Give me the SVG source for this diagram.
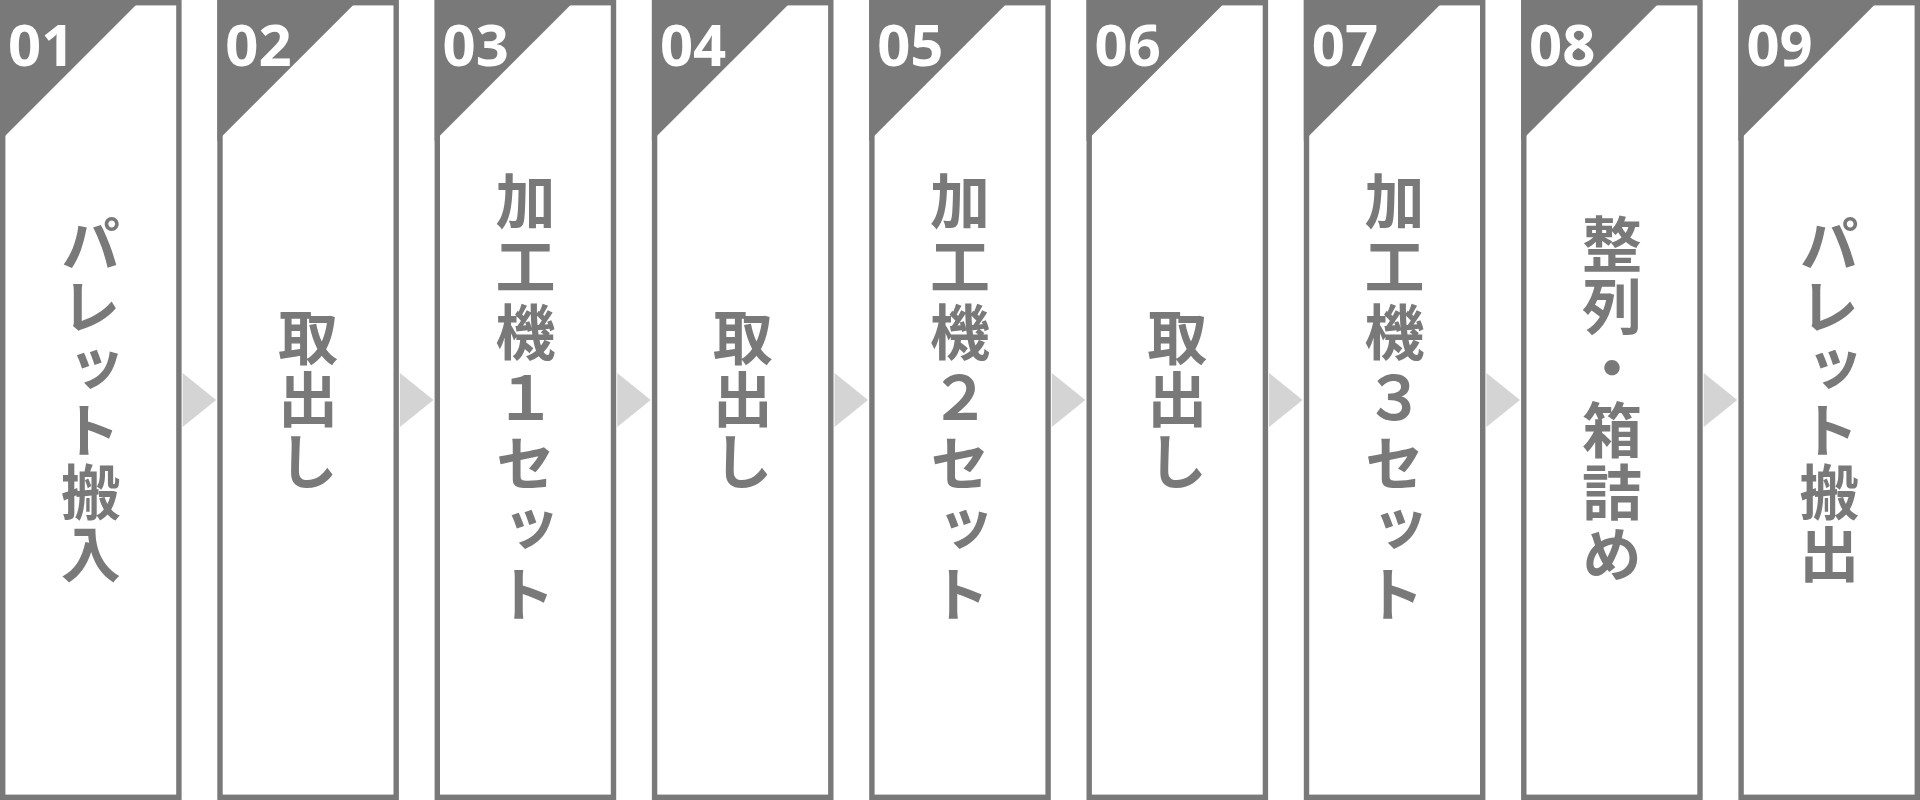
<svg xmlns="http://www.w3.org/2000/svg" width="1920" height="800" viewBox="0 0 1920 800">
<style>
.box{fill:#ffffff;stroke:#797979;stroke-width:5.4}
.tab{fill:#797979}
.num{font-family:"Open Sans","Liberation Sans",sans-serif;font-weight:700;font-size:58px;fill:#ffffff}
.lbl{font-family:"Noto Sans CJK JP","Noto Sans CJK SC",sans-serif;font-weight:700;font-size:60px;fill:#797979;writing-mode:vertical-rl;text-orientation:upright;text-anchor:middle;letter-spacing:2px}
.lbl.wide{letter-spacing:5.5px}
.arr{fill:#d4d4d4}
</style>
<rect width="1920" height="800" fill="#ffffff"/>
<g id="connectors">
<polygon class="arr" points="182.6,373 216.1,400 182.6,427"/>
<polygon class="arr" points="399.9,373 433.4,400 399.9,427"/>
<polygon class="arr" points="617.2,373 650.7,400 617.2,427"/>
<polygon class="arr" points="834.5,373 868,400 834.5,427"/>
<polygon class="arr" points="1051.8,373 1085.3,400 1051.8,427"/>
<polygon class="arr" points="1269.1,373 1302.6,400 1269.1,427"/>
<polygon class="arr" points="1486.4,373 1519.9,400 1486.4,427"/>
<polygon class="arr" points="1703.7,373 1737.2,400 1703.7,427"/>
</g>
<g id="step01" transform="translate(0,0)">
<rect class="box" x="2.7" y="2.7" width="176.2" height="794.6"/>
<polygon class="tab" points="0,0 141,0 0,141"/>
<text class="num" x="8" y="66">01</text>
<text class="lbl" x="90.8" y="400">パレット搬入</text>
</g>
<g id="step02" transform="translate(217.3,0)">
<rect class="box" x="2.7" y="2.7" width="176.2" height="794.6"/>
<polygon class="tab" points="0,0 141,0 0,141"/>
<text class="num" x="8" y="66">02</text>
<text class="lbl" x="90.8" y="400">取出し</text>
</g>
<g id="step03" transform="translate(434.6,0)">
<rect class="box" x="2.7" y="2.7" width="176.2" height="794.6"/>
<polygon class="tab" points="0,0 141,0 0,141"/>
<text class="num" x="8" y="66">03</text>
<text class="lbl wide" x="90.8" y="400">加工機１セット</text>
</g>
<g id="step04" transform="translate(651.9,0)">
<rect class="box" x="2.7" y="2.7" width="176.2" height="794.6"/>
<polygon class="tab" points="0,0 141,0 0,141"/>
<text class="num" x="8" y="66">04</text>
<text class="lbl" x="90.8" y="400">取出し</text>
</g>
<g id="step05" transform="translate(869.2,0)">
<rect class="box" x="2.7" y="2.7" width="176.2" height="794.6"/>
<polygon class="tab" points="0,0 141,0 0,141"/>
<text class="num" x="8" y="66">05</text>
<text class="lbl wide" x="90.8" y="400">加工機２セット</text>
</g>
<g id="step06" transform="translate(1086.5,0)">
<rect class="box" x="2.7" y="2.7" width="176.2" height="794.6"/>
<polygon class="tab" points="0,0 141,0 0,141"/>
<text class="num" x="8" y="66">06</text>
<text class="lbl" x="90.8" y="400">取出し</text>
</g>
<g id="step07" transform="translate(1303.8,0)">
<rect class="box" x="2.7" y="2.7" width="176.2" height="794.6"/>
<polygon class="tab" points="0,0 141,0 0,141"/>
<text class="num" x="8" y="66">07</text>
<text class="lbl wide" x="90.8" y="400">加工機３セット</text>
</g>
<g id="step08" transform="translate(1521.1,0)">
<rect class="box" x="2.7" y="2.7" width="176.2" height="794.6"/>
<polygon class="tab" points="0,0 141,0 0,141"/>
<text class="num" x="8" y="66">08</text>
<text class="lbl" x="90.8" y="400">整列・箱詰め</text>
</g>
<g id="step09" transform="translate(1738.4,0)">
<rect class="box" x="2.7" y="2.7" width="176.2" height="794.6"/>
<polygon class="tab" points="0,0 141,0 0,141"/>
<text class="num" x="8" y="66">09</text>
<text class="lbl" x="90.8" y="400">パレット搬出</text>
</g>
</svg>
